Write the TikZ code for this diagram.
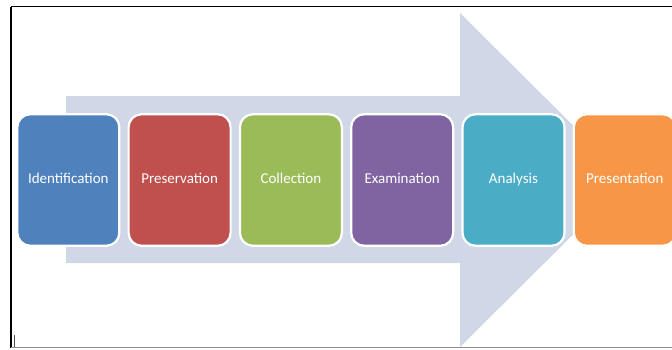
\documentclass[tikz,border=0pt]{standalone}
\usepackage{fontspec}
\setmainfont{Carlito}
\definecolor{cBlue}{HTML}{4F81BD}
\definecolor{cRed}{HTML}{C0504D}
\definecolor{cGreen}{HTML}{9BBB59}
\definecolor{cPurple}{HTML}{8064A2}
\definecolor{cTeal}{HTML}{4BACC6}
\definecolor{cOrange}{HTML}{F79646}
\definecolor{cArrow}{HTML}{D0D8E8}
\tikzset{
  stagebox/.style={draw=white, line width=2.2pt, rounded corners=13pt,
    minimum width=102pt, minimum height=131.5pt, inner sep=0pt,
    text height=10.5pt, text depth=3pt,
    text=white, font=\fontsize{15}{18}\selectfont},
  frameline/.style={line width=1.5pt, black}
}
\begin{document}
\begin{tikzpicture}[x=1pt, y=-1pt]
\useasboundingbox (0,0) rectangle (672,349);
\fill[white] (0,0) rectangle (672,349);
% big background arrow
\fill[cArrow] (66,96) -- (460,96) -- (460,13) -- (628,180) -- (460,347) -- (460,263) -- (66,263) -- cycle;
% stage boxes
\node[stagebox, fill=cBlue]   (s1) at (68.3,180)  {Identification};
\node[stagebox, fill=cRed]    (s2) at (179.6,180) {Preservation};
\node[stagebox, fill=cGreen]  (s3) at (290.9,180) {Collection};
\node[stagebox, fill=cPurple] (s4) at (402.2,180) {Examination};
\node[stagebox, fill=cTeal]   (s5) at (513.5,180) {Analysis};
\node[stagebox, fill=cOrange] (s6) at (624.8,180) {Presentation};
% frame
\draw[frameline] (11,6.5) -- (672,6.5);
\draw[frameline] (11,6.5) -- (11,347.5);
\draw[line width=1.2pt, black!45] (11,347.7) -- (672,347.7);
% text cursor
\draw[line width=1pt, black!70] (14.5,335) -- (14.5,347);
\end{tikzpicture}
\end{document}
